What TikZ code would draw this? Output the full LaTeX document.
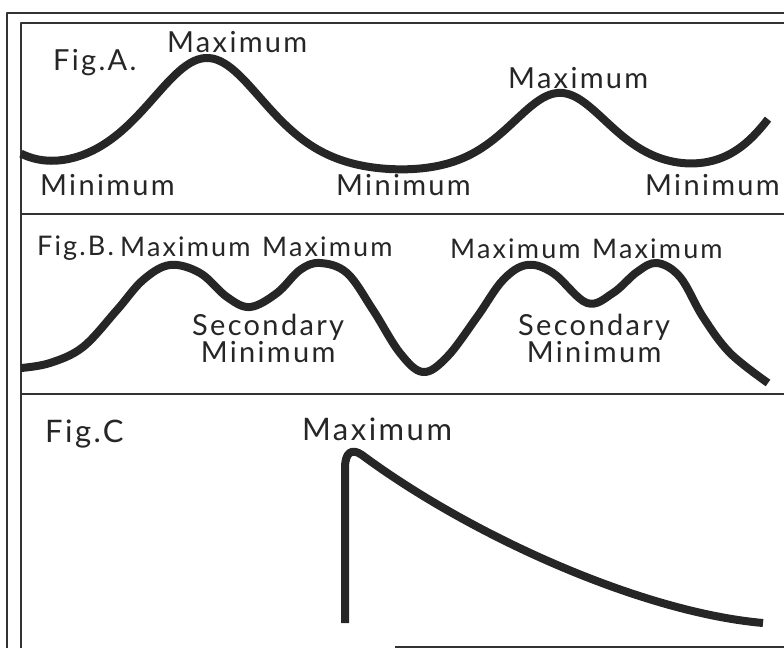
\documentclass[tikz,border=0pt]{standalone}
\usepackage{fontspec}
\setmainfont{Lato}[LetterSpace=8]
\begin{document}
\begin{tikzpicture}[x=1pt, y=-1pt, line join=round,
    declare function={bump(\u)=(2*exp(-abs(\u))/(1+exp(-2*abs(\u))))^2;},
    frame/.style={line width=1.6pt, black!80},
    wave/.style={line width=8pt, black!85},
    lbl/.style={anchor=base west, inner sep=0pt, text=black!85,
      font=\fontsize{29}{27}\selectfont},
    smalllbl/.style={lbl, font=\fontsize{27}{27}\selectfont},
    biglbl/.style={lbl, font=\fontsize{31}{27}\selectfont}]
    \useasboundingbox (0,0) rectangle (784,648);
    \draw[frame] (7,648) -- (7,13) -- (784,13);
    \draw[frame] (21,648) -- (21,23) -- (784,23);
    \draw[frame] (21,214) -- (784,214);
    \draw[frame] (21,394) -- (784,394);
    \draw[frame] (395,647) -- (784,647);
    % Fig. A
    \draw[wave, domain=21:768, samples=200]
      plot (\x,{176 - 61*bump((\x+40)/50) - 118*bump((\x-207)/80)
        - 83*bump((\x-560)/68) - 110*bump((\x-820)/60)});
    \node[lbl] (figA) at (53,70) {Fig.A.};
    \node[lbl] (maxA1) at (167,52) {Maximum};
    \node[lbl] (maxA2) at (508,88) {Maximum};
    \node[lbl] (minA1) at (40,195) {Minimum};
    \node[lbl] (minA2) at (336,195) {Minimum};
    \node[lbl] (minA3) at (645,195) {Minimum};
    % Fig. B
    \draw[wave] plot[smooth, tension=0.6] coordinates {(21,368) (50,363) (83,347)
      (117,310) (143,280) (170,265) (200,273) (227,297) (250,307) (277,293)
      (300,270) (320,263) (347,273) (373,310) (400,353) (423,372) (447,357)
      (477,317) (503,280) (527,265) (553,273) (587,303) (613,293) (637,272)
      (657,263) (680,277) (703,317) (730,353) (768,383)};
    \node[smalllbl] (figB) at (37,255) {Fig.B.};
    \node[smalllbl] (maxB1) at (120,256) {Maximum};
    \node[smalllbl] (maxB2) at (262,256) {Maximum};
    \node[smalllbl] (maxB3) at (450,258) {Maximum};
    \node[smalllbl] (maxB4) at (592,258) {Maximum};
    \node[lbl, align=center] (secB1) at (192,362) {Secondary\\Minimum};
    \node[lbl, align=center] (secB2) at (518,362) {Secondary\\Minimum};
    % Fig. C
    \draw[wave] (345,623) -- (345,468)
      .. controls (345,452) and (352,448) .. (362,455)
      .. controls (470,535) and (640,612) .. (763,623);
    \node[biglbl] (figC) at (45,442) {Fig.C};
    \node[biglbl] (maxC) at (302,440) {Maximum};
\end{tikzpicture}
\end{document}
